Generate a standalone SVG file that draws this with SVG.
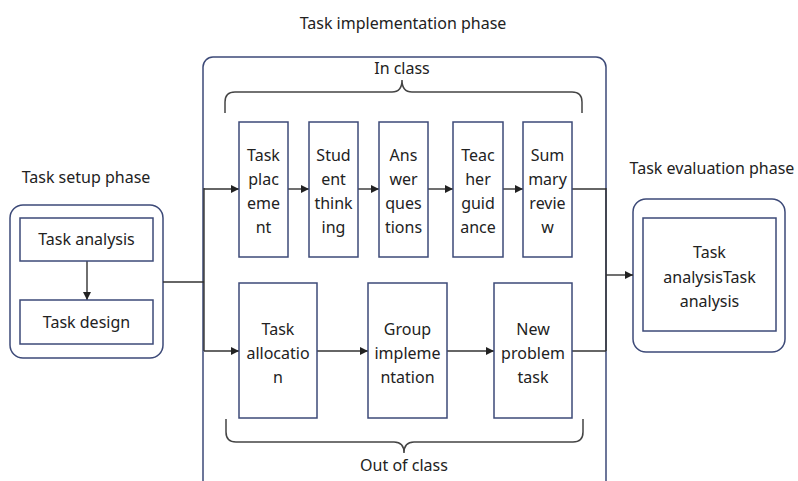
<svg xmlns="http://www.w3.org/2000/svg" width="798" height="481" viewBox="0 0 798 481">
<defs>
<marker id="ah" viewBox="0 0 10 10" refX="10" refY="5" markerWidth="8" markerHeight="8" markerUnits="userSpaceOnUse" orient="auto">
<path d="M0,0 L10,5 L0,10 z" fill="#222"/>
</marker>
<style>
.frame{fill:none;stroke:#3d4a78;stroke-width:1.5}
.box{fill:#fff;stroke:#3d4a78;stroke-width:1.5}
.t{font-family:"Noto Sans","Open Sans",sans-serif;font-size:16px;fill:#222;text-anchor:middle}
.c{fill:none;stroke:#333;stroke-width:1.4}
.a{fill:none;stroke:#333;stroke-width:1.4;marker-end:url(#ah)}
.br{fill:none;stroke:#444;stroke-width:1.5}
</style>
</defs>
<rect width="798" height="481" fill="#fff"/>

<g id="setup-phase">
<rect class="frame" x="10" y="205" width="153" height="153" rx="13"/>
</g>
<g id="implementation-phase">
<rect class="frame" x="203" y="57" width="403" height="440" rx="10"/>
</g>
<g id="evaluation-phase">
<rect class="frame" x="633" y="199" width="152" height="153" rx="13"/>
</g>

<g id="braces">
<path class="br" d="M225,113 V102 Q225,92 235,92 H392 Q402,92 402,80 Q402,92 412,92 H572 Q582,92 582,102 V113"/>
<path class="br" d="M226,419 V432 Q226,442 236,442 H394 Q404,442 404,453 Q404,442 414,442 H573 Q583,442 583,432 V419"/>
</g>

<g id="connectors">
<path class="a" d="M87,261 V300"/>
<path class="c" d="M163,282 H204"/>
<path class="c" d="M204,188 V351"/>
<path class="a" d="M204,189 H239"/>
<path class="a" d="M204,351 H239"/>
<path class="a" d="M288,189 H309"/>
<path class="a" d="M358,189 H379"/>
<path class="a" d="M428,189 H453"/>
<path class="a" d="M503,189 H523"/>
<path class="c" d="M572,189 H606"/>
<path class="a" d="M317,351 H368"/>
<path class="a" d="M447,351 H494"/>
<path class="c" d="M572,351 H606"/>
<path class="c" d="M606,188 V351"/>
<path class="a" d="M606,275 H633"/>
</g>

<g id="task-analysis">
<rect class="box" x="20" y="218" width="133" height="43"/>
<text class="t" x="86.5" y="245">Task analysis</text>
</g>
<g id="task-design">
<rect class="box" x="20" y="300" width="133" height="44"/>
<text class="t" x="86.5" y="328">Task design</text>
</g>

<g id="task-placement">
<rect class="box" x="239" y="122" width="49" height="135"/>
<text class="t" x="263.5" y="161">Task</text>
<text class="t" x="263.5" y="185">plac</text>
<text class="t" x="263.5" y="209">eme</text>
<text class="t" x="263.5" y="233">nt</text>
</g>
<g id="student-thinking">
<rect class="box" x="309" y="122" width="49" height="135"/>
<text class="t" x="333.5" y="161">Stud</text>
<text class="t" x="333.5" y="185">ent</text>
<text class="t" x="333.5" y="209">think</text>
<text class="t" x="333.5" y="233">ing</text>
</g>
<g id="answer-questions">
<rect class="box" x="379" y="122" width="49" height="135"/>
<text class="t" x="403.5" y="161">Ans</text>
<text class="t" x="403.5" y="185">wer</text>
<text class="t" x="403.5" y="209">ques</text>
<text class="t" x="403.5" y="233">tions</text>
</g>
<g id="teacher-guidance">
<rect class="box" x="453" y="122" width="50" height="135"/>
<text class="t" x="478" y="161">Teac</text>
<text class="t" x="478" y="185">her</text>
<text class="t" x="478" y="209">guid</text>
<text class="t" x="478" y="233">ance</text>
</g>
<g id="summary-review">
<rect class="box" x="523" y="122" width="49" height="135"/>
<text class="t" x="547.5" y="161">Sum</text>
<text class="t" x="547.5" y="185">mary</text>
<text class="t" x="547.5" y="209">revie</text>
<text class="t" x="547.5" y="233">w</text>
</g>

<g id="task-allocation">
<rect class="box" x="239" y="283" width="78" height="135"/>
<text class="t" x="278" y="335">Task</text>
<text class="t" x="278" y="359">allocatio</text>
<text class="t" x="278" y="383">n</text>
</g>
<g id="group-implementation">
<rect class="box" x="368" y="283" width="79" height="135"/>
<text class="t" x="407.5" y="335">Group</text>
<text class="t" x="407.5" y="359">impleme</text>
<text class="t" x="407.5" y="383">ntation</text>
</g>
<g id="new-problem-task">
<rect class="box" x="494" y="283" width="78" height="135"/>
<text class="t" x="533" y="335">New</text>
<text class="t" x="533" y="359">problem</text>
<text class="t" x="533" y="383">task</text>
</g>

<g id="task-evaluation">
<rect class="box" x="643" y="218" width="133" height="113"/>
<text class="t" x="709.5" y="258">Task</text>
<text class="t" x="709.5" y="283">analysisTask</text>
<text class="t" x="709.5" y="307">analysis</text>
</g>

<g id="labels">
<text class="t" x="403" y="29">Task implementation phase</text>
<text class="t" x="86" y="183">Task setup phase</text>
<text class="t" x="712" y="174">Task evaluation phase</text>
<text class="t" x="402" y="74">In class</text>
<text class="t" x="404" y="471">Out of class</text>
</g>
</svg>
